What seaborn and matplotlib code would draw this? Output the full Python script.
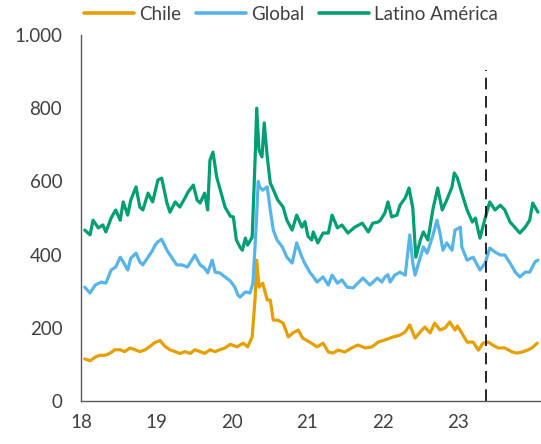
import pandas as pd
import matplotlib
matplotlib.use("Agg")
import matplotlib.pyplot as plt
import seaborn as sns
from matplotlib.ticker import FuncFormatter

# Años (fracción del año) y valores
chile_t = [18.05, 18.12, 18.19, 18.25, 18.32, 18.38, 18.45, 18.52, 18.58, 18.65,
           18.72, 18.78, 18.85, 18.92, 18.98, 19.05, 19.11, 19.18, 19.25, 19.31,
           19.38, 19.45, 19.51, 19.58, 19.64, 19.71, 19.78, 19.84, 19.91, 19.98,
           20.07, 20.15, 20.21, 20.27, 20.31, 20.33, 20.36, 20.41, 20.47, 20.51,
           20.55, 20.61, 20.68, 20.75, 20.81, 20.88, 20.94, 21.04, 21.13, 21.21,
           21.28, 21.34, 21.41, 21.50, 21.59, 21.67, 21.77, 21.86, 21.94, 22.03,
           22.14, 22.23, 22.30, 22.36, 22.43, 22.50, 22.56, 22.63, 22.69, 22.76,
           22.83, 22.89, 22.96, 22.99, 23.05, 23.12, 23.20, 23.27, 23.33, 23.40,
           23.46, 23.53, 23.62, 23.72, 23.78, 23.85, 23.92, 23.98, 24.05]
chile_v = [115, 110, 120, 125, 125, 130, 140, 140, 135, 145,
           140, 135, 140, 150, 160, 165, 150, 140, 135, 130,
           135, 130, 140, 135, 130, 140, 135, 140, 145, 155,
           148, 158, 148, 175, 284, 385, 311, 322, 276, 276,
           221, 221, 213, 175, 186, 194, 172, 160, 148, 158,
           134, 131, 139, 134, 145, 153, 145, 148, 161, 167,
           175, 180, 189, 208, 172, 189, 202, 186, 213, 194,
           200, 216, 194, 205, 186, 161, 161, 139, 158, 161,
           153, 145, 145, 134, 131, 134, 139, 145, 158]

global_t = [18.05, 18.12, 18.19, 18.27, 18.33, 18.40, 18.46, 18.52, 18.56, 18.62,
            18.66, 18.73, 18.78, 18.82, 18.89, 18.95, 18.98, 19.02, 19.07, 19.14,
            19.21, 19.27, 19.34, 19.41, 19.47, 19.51, 19.58, 19.64, 19.68, 19.74,
            19.78, 19.84, 19.91, 19.98, 20.04, 20.08, 20.11, 20.18, 20.24, 20.28,
            20.32, 20.35, 20.37, 20.41, 20.47, 20.51, 20.55, 20.60, 20.67, 20.73,
            20.80, 20.86, 20.93, 20.97, 21.04, 21.08, 21.13, 21.21, 21.28, 21.33,
            21.40, 21.46, 21.53, 21.61, 21.67, 21.74, 21.83, 21.93, 21.99, 22.03,
            22.07, 22.10, 22.16, 22.23, 22.30, 22.36, 22.40, 22.43, 22.50, 22.54,
            22.59, 22.66, 22.72, 22.76, 22.80, 22.85, 22.92, 22.96, 23.03, 23.05,
            23.12, 23.20, 23.29, 23.36, 23.42, 23.49, 23.56, 23.62, 23.69, 23.76,
            23.82, 23.89, 23.95, 24.02, 24.06]
global_v = [311, 295, 317, 325, 322, 358, 366, 393, 380, 358,
            390, 404, 380, 372, 393, 412, 425, 435, 442, 412,
            390, 372, 372, 366, 385, 399, 372, 363, 350, 385,
            352, 350, 339, 328, 311, 290, 284, 298, 295, 322,
            467, 600, 585, 576, 585, 522, 467, 440, 421, 393,
            377, 432, 393, 375, 350, 340, 325, 339, 317, 344,
            322, 331, 311, 309, 322, 336, 317, 336, 325, 339,
            345, 325, 344, 352, 344, 454, 377, 344, 393, 421,
            404, 448, 494, 459, 412, 432, 412, 467, 475, 421,
            385, 393, 358, 377, 418, 407, 399, 399, 377, 352,
            339, 352, 352, 380, 385]

latam_t = [18.05, 18.12, 18.16, 18.23, 18.29, 18.33, 18.40, 18.46, 18.52, 18.56,
           18.62, 18.66, 18.73, 18.78, 18.82, 18.89, 18.95, 19.02, 19.07, 19.14,
           19.18, 19.25, 19.31, 19.38, 19.42, 19.49, 19.54, 19.58, 19.64, 19.68,
           19.71, 19.75, 19.80, 19.84, 19.91, 19.98, 20.02, 20.06, 20.11, 20.14,
           20.18, 20.21, 20.27, 20.31, 20.33, 20.36, 20.40, 20.43, 20.47, 20.51,
           20.57, 20.61, 20.68, 20.73, 20.80, 20.86, 20.93, 20.97, 21.01, 21.06,
           21.08, 21.14, 21.21, 21.28, 21.33, 21.40, 21.46, 21.54, 21.63, 21.73,
           21.81, 21.87, 21.94, 21.97, 22.03, 22.07, 22.12, 22.19, 22.23, 22.30,
           22.35, 22.40, 22.44, 22.50, 22.54, 22.60, 22.67, 22.73, 22.79, 22.85,
           22.92, 22.95, 22.99, 23.05, 23.12, 23.19, 23.23, 23.29, 23.36, 23.42,
           23.49, 23.56, 23.62, 23.69, 23.76, 23.82, 23.89, 23.95, 23.99, 24.06]
latam_v = [467, 454, 494, 473, 481, 462, 500, 522, 494, 544,
           508, 549, 585, 530, 522, 568, 544, 604, 609, 541,
           516, 544, 530, 555, 571, 590, 549, 541, 568, 522,
           658, 680, 612, 582, 530, 505, 503, 440, 420, 412,
           445, 426, 448, 667, 800, 686, 667, 760, 667, 596,
           568, 549, 530, 494, 467, 508, 475, 490, 450, 440,
           462, 432, 459, 459, 508, 473, 481, 459, 475, 486,
           462, 486, 489, 494, 514, 544, 503, 508, 535, 555,
           582, 527, 393, 440, 462, 440, 527, 582, 522, 549,
           585, 623, 610, 568, 522, 489, 500, 445, 500, 544,
           522, 535, 522, 489, 473, 459, 475, 494, 541, 516]

series_names = ["Chile", "Global", "Latino América"]
year_ticks = [18, 19, 20, 21, 22, 23]
y_ticks = [0, 200, 400, 600, 800, 1000]
marker_year = 23.37

df = pd.concat([
    pd.DataFrame({"t": chile_t, "v": chile_v, "serie": "Chile"}),
    pd.DataFrame({"t": global_t, "v": global_v, "serie": "Global"}),
    pd.DataFrame({"t": latam_t, "v": latam_v, "serie": "Latino América"}),
])

sns.set_theme(style="white")
plt.rcParams["font.family"] = ["Lato", "DejaVu Sans"]

fig = plt.figure(figsize=(5.41, 4.44), dpi=100)
ax = fig.add_axes([0.1497, 0.0968, 0.8503, 0.8243])

palette = {"Chile": "#E69F00", "Global": "#56B4E9", "Latino América": "#009E73"}
sns.lineplot(data=df, x="t", y="v", hue="serie", hue_order=series_names,
             palette=palette, linewidth=2.3, estimator=None, sort=False,
             ax=ax, legend=False)

# línea vertical punteada
ax.axvline(marker_year, ymin=0, ymax=0.905, color="black",
           linestyle=(0, (7, 4)), linewidth=1.2)

ax.set_xlim(18, 24.1)
ax.set_ylim(0, 1000)
ax.set_xticks(year_ticks)
ax.set_xticklabels([str(y) for y in year_ticks])
ax.set_yticks(y_ticks)
ax.yaxis.set_major_formatter(FuncFormatter(lambda v, p: f"{v:,.0f}".replace(",", ".")))
ax.set_xlabel("")
ax.set_ylabel("")

for s in ["top", "right"]:
    ax.spines[s].set_visible(False)
for s in ["left", "bottom"]:
    ax.spines[s].set_color("#595959")
    ax.spines[s].set_linewidth(1.0)
ax.tick_params(axis="both", direction="out", length=4.5, width=1.0,
               color="#595959", labelsize=13.5, labelcolor="#404040")
ax.tick_params(axis="y", pad=9)
ax.tick_params(axis="x", pad=5)

handles = [plt.Line2D([], [], color=palette[n], linewidth=2.6) for n in series_names]
fig.legend(handles, series_names, loc="center", bbox_to_anchor=(0.538, 0.968),
           ncol=3, frameon=False, fontsize=13.5, handlelength=2.67,
           handletextpad=0.27, columnspacing=0.8, labelcolor="#404040")

fig.savefig("out.png", dpi=100)
